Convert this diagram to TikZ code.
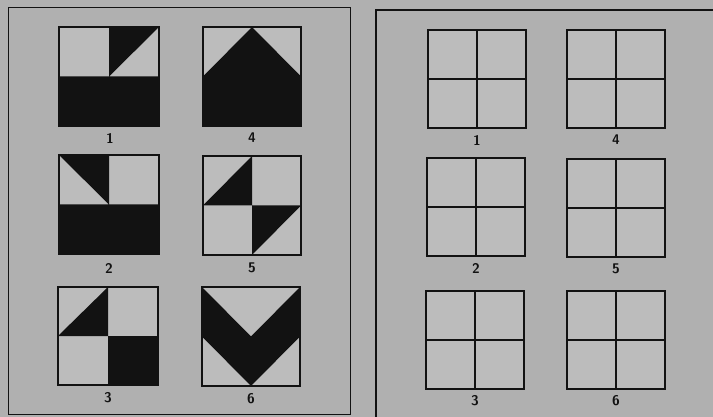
\documentclass[tikz,border=0pt]{standalone}
\usepackage{tikz}
\usetikzlibrary{positioning}

\definecolor{paper}{RGB}{176,176,176}
\definecolor{cell}{RGB}{188,188,188}
\definecolor{ink}{RGB}{18,18,18}

\tikzset{
  tile/.style={draw=ink, line width=1.6pt, fill=cell},
  grid line/.style={draw=ink, line width=1.4pt},
  blk/.style={fill=ink},
  numlbl/.style={font=\sffamily\bfseries\fontsize{14}{14}\selectfont, text=ink, inner sep=0pt}
}

\begin{document}
\begin{tikzpicture}[x=1pt,y=-1pt]
  \useasboundingbox (0,0) rectangle (713,417);
  \fill[paper] (0,0) rectangle (713,417);

  % panel frames
  \draw[ink, line width=1pt] (8,8) rectangle (350,414);
  \draw[ink, line width=1.2pt] (713,10) -- (376,10) -- (376,417);

  % left panel: the six patterns
  \begin{scope}[shift={(59,126)}, x=100pt, y=99pt]
    \fill[cell] (0,0) rectangle (1,1);
    \fill[blk] (0,0) rectangle (1,.5) (.5,.5) -- (.5,1) -- (1,1) -- cycle;
    \draw[tile, fill=none] (0,0) rectangle (1,1);
  \end{scope}
  \begin{scope}[shift={(203,126)}, x=98pt, y=99pt]
    \fill[cell] (0,0) rectangle (1,1);
    \fill[blk] (0,0) -- (1,0) -- (1,.5) -- (.5,1) -- (0,.5) -- cycle;
    \draw[tile, fill=none] (0,0) rectangle (1,1);
  \end{scope}
  \begin{scope}[shift={(59,254)}, x=100pt, y=99pt]
    \fill[cell] (0,0) rectangle (1,1);
    \fill[blk] (0,0) rectangle (1,.5) (0,1) -- (.5,1) -- (.5,.5) -- cycle;
    \draw[tile, fill=none] (0,0) rectangle (1,1);
  \end{scope}
  \begin{scope}[shift={(203,255)}, x=98pt, y=99pt]
    \fill[cell] (0,0) rectangle (1,1);
    \fill[blk] (0,.5) -- (.5,.5) -- (.5,1) -- cycle (.5,.5) -- (1,.5) -- (.5,0) -- cycle;
    \draw[tile, fill=none] (0,0) rectangle (1,1);
  \end{scope}
  \begin{scope}[shift={(58,385)}, x=100pt, y=98pt]
    \fill[cell] (0,0) rectangle (1,1);
    \fill[blk] (0,.5) -- (.5,.5) -- (.5,1) -- cycle (.5,0) rectangle (1,.5);
    \draw[tile, fill=none] (0,0) rectangle (1,1);
  \end{scope}
  \begin{scope}[shift={(202,386)}, x=98pt, y=99pt]
    \fill[cell] (0,0) rectangle (1,1);
    \fill[blk] (0,1) -- (.5,.5) -- (1,1) -- (1,.5) -- (.5,0) -- (0,.5) -- cycle;
    \draw[tile, fill=none] (0,0) rectangle (1,1);
  \end{scope}

  \foreach \n/\x/\y in {1/110/138, 4/252/138, 2/109/268, 5/252/268, 3/108/398, 6/251/399}{
    \node[numlbl] (lab\n) at (\x,\y) {\n};
  }

  % right panel: empty 2x2 grids
  \foreach \n/\x/\y in {1/428/128, 4/567/128, 2/427/256, 5/567/257, 3/426/389, 6/567/389}{
    \begin{scope}[shift={(\x,\y)}, x=98pt, y=98pt]
      \draw[tile] (0,0) rectangle (1,1);
      \draw[grid line] (.5,0) -- (.5,1) (0,.5) -- (1,.5);
    \end{scope}
    \node[numlbl] (blank\n) at (\x+49,\y+12) {\n};
  }
\end{tikzpicture}
\end{document}
